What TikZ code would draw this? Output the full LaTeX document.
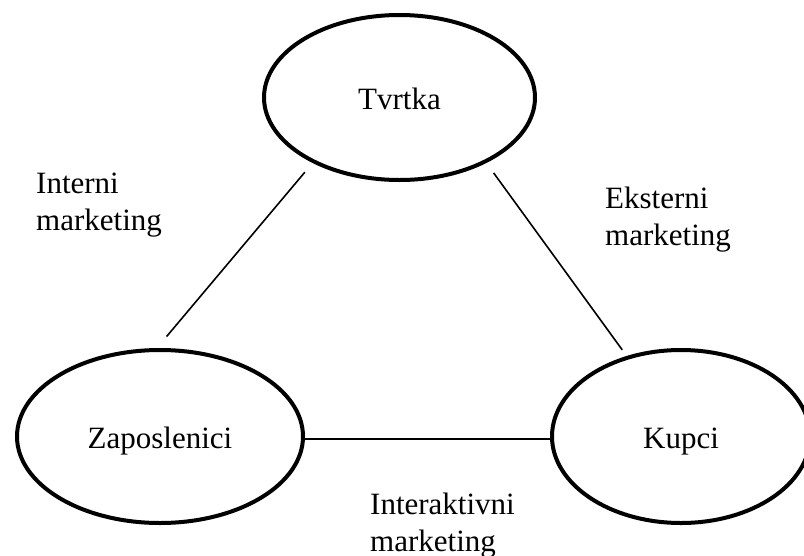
\documentclass[tikz,border=0pt]{standalone}
\usepackage{fontspec}
\setmainfont{Liberation Serif}
\usetikzlibrary{shapes.geometric}
\begin{document}
\begin{tikzpicture}[x=1pt,y=-1pt,
  oval/.style={ellipse,draw,line width=4pt,inner sep=0pt,
    font=\fontsize{31}{37}\selectfont,text height=23pt,text depth=0pt},
  lab/.style={anchor=base west,inner sep=0pt,align=left,
    font=\fontsize{31}{37}\selectfont},
  link/.style={line width=1.6pt}]
\useasboundingbox (0,0) rectangle (804,555);
\node[oval,minimum width=271pt,minimum height=165pt] (top) at (399.5,97.5) {Tvrtka};
\node[oval,minimum width=286pt,minimum height=173pt] (left) at (160,436.5) {Zaposlenici};
\node[oval,minimum width=258pt,minimum height=173pt] (right) at (681,436.5) {Kupci};
\draw[link,shorten <=12pt,shorten >=15pt] (top.217.9) -- (left.92.8);
\draw[link,shorten <=12.3pt,shorten >=7.6pt] (top.323.1) -- (right.124.1);
\draw[link] ([yshift=-2.5pt]left.east) -- ([yshift=-2.5pt]right.west);
\node[lab] (lint) at (36,230) {Interni\\marketing};
\node[lab] (lext) at (605,245) {Eksterni\\marketing};
\node[lab] (linter) at (370,551) {Interaktivni\\marketing};
\end{tikzpicture}
\end{document}
